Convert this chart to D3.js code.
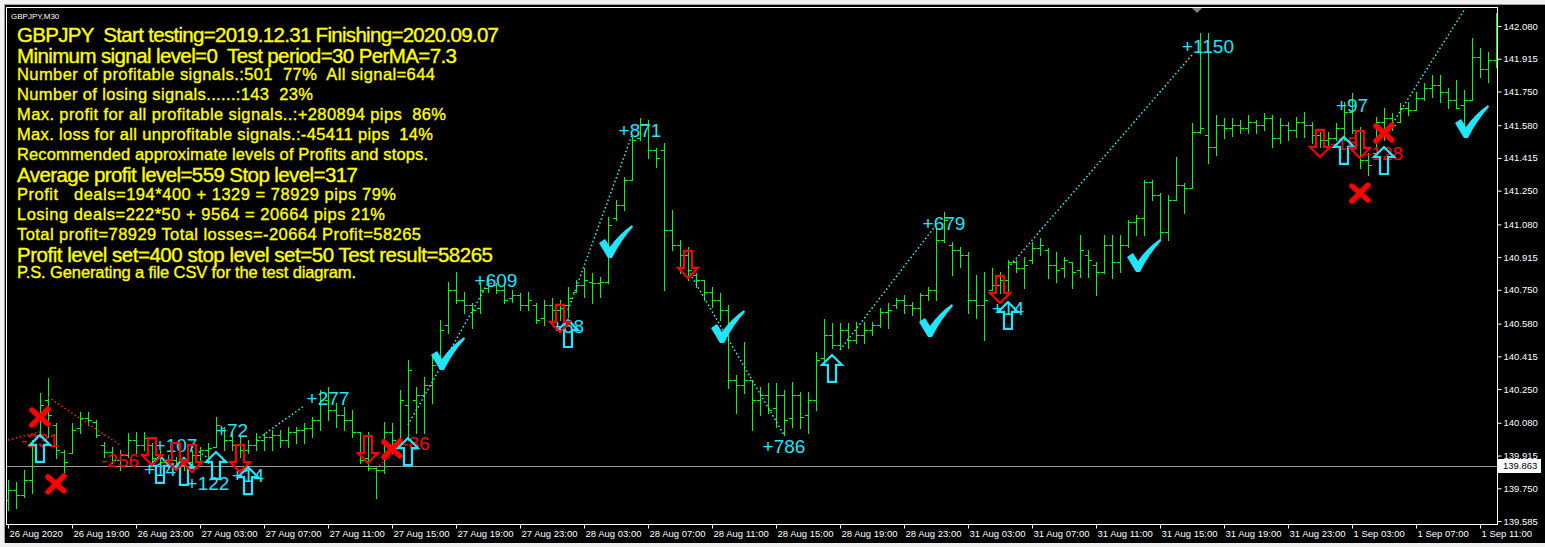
<!DOCTYPE html>
<html><head><meta charset="utf-8">
<script src="https://cdn.jsdelivr.net/npm/d3@7"></script>
<style>
html,body{margin:0;padding:0;background:#000;overflow:hidden}
svg{display:block}
text{white-space:pre}
</style></head><body><svg id="c" width="1545" height="547"></svg>
<script>
// ---------- DATA ----------
const symbolTitle = "GBPJPY,M30";
const opens = [139.691,139.741,139.716,139.792,140.019,140.195,140.069,139.933,139.928,140.054,140.104,140.084,139.968,139.933,139.893,139.918,139.993,139.968,139.968,139.903,139.883,139.893,139.867,139.883,139.918,139.943,139.958,140.054,139.993,139.968,139.943,139.968,139.993,140.009,140.019,139.993,140.034,140.044,140.054,140.094,140.195,140.145,140.119,140.094,140.034,139.903,139.852,139.842,140.034,139.993,140.170,140.195,140.220,140.271,140.397,140.573,140.749,140.699,140.674,140.659,140.759,140.775,140.749,140.709,140.724,140.674,140.674,140.608,140.674,140.649,140.674,140.739,140.775,140.790,140.785,140.790,141.112,141.178,141.304,141.515,141.581,141.455,141.455,141.052,140.976,140.926,140.825,140.800,140.739,140.699,140.649,140.296,140.271,140.296,140.195,140.220,140.155,140.220,140.104,140.220,140.119,140.195,140.407,140.523,140.472,140.548,140.497,140.523,140.548,140.573,140.639,140.674,140.699,140.674,140.659,140.724,140.749,141.001,140.976,140.951,140.926,140.699,140.674,140.749,140.775,140.800,140.891,140.860,140.901,140.961,140.951,140.875,140.860,140.891,140.850,140.926,140.875,140.840,140.976,140.891,140.976,141.092,141.112,141.294,141.228,141.042,141.203,141.279,141.263,141.546,141.531,141.470,141.581,141.566,141.581,141.566,141.596,141.581,141.616,141.515,141.581,141.556,141.596,141.581,141.531,141.505,141.515,141.566,141.647,141.556,141.405,141.440,141.596,141.616,141.596,141.667,141.657,141.717,141.767,141.783,141.747,141.707,141.682,141.707,141.924,141.863,141.909];
const highs = [139.792,139.782,139.842,139.993,140.230,140.306,140.079,139.943,140.079,140.135,140.135,140.094,139.983,139.958,139.943,140.029,140.034,140.034,139.978,139.943,139.918,139.908,139.908,139.943,139.958,139.978,140.109,140.059,140.044,140.009,139.993,140.029,140.029,140.044,140.044,140.059,140.059,140.079,140.109,140.245,140.261,140.180,140.160,140.145,140.034,140.034,139.857,140.084,140.079,140.245,140.397,140.261,140.311,140.412,140.598,140.790,140.840,140.739,140.684,140.785,140.810,140.785,140.785,140.749,140.734,140.739,140.684,140.699,140.709,140.699,140.765,140.800,140.860,140.835,140.815,141.117,141.203,141.319,141.521,141.616,141.606,141.465,141.490,141.153,141.001,140.966,140.835,140.800,140.765,140.734,140.674,140.321,140.487,140.296,140.261,140.281,140.281,140.245,140.286,140.235,140.235,140.437,140.603,140.583,140.583,140.583,140.588,140.588,140.588,140.659,140.684,140.709,140.724,140.689,140.734,140.765,141.067,141.143,140.991,140.966,140.941,140.825,140.840,140.860,140.840,140.901,140.901,140.916,140.991,141.011,140.961,140.941,140.916,140.891,141.027,140.951,140.891,141.027,141.027,141.027,141.102,141.127,141.304,141.304,141.238,141.228,141.420,141.289,141.591,142.045,142.045,141.631,141.616,141.616,141.606,141.631,141.606,141.641,141.631,141.616,141.596,141.621,141.647,141.596,141.546,141.546,141.591,141.697,141.742,141.571,141.440,141.621,141.667,141.641,141.692,141.697,141.747,141.793,141.833,141.833,141.767,141.808,141.757,142.019,141.969,141.949,142.145];
const lows = [139.641,139.651,139.706,139.726,140.009,140.009,139.903,139.832,139.928,140.029,140.069,140.009,139.908,139.877,139.842,139.908,139.928,139.943,139.877,139.857,139.852,139.842,139.842,139.857,139.877,139.877,139.958,139.943,139.943,139.908,139.928,139.943,139.943,139.943,139.958,139.958,139.978,139.978,140.009,140.044,140.094,140.059,140.044,140.009,139.877,139.842,139.701,139.827,139.928,139.978,139.993,140.029,140.029,140.180,140.381,140.533,140.684,140.633,140.558,140.633,140.739,140.734,140.684,140.689,140.649,140.649,140.583,140.573,140.598,140.598,140.613,140.739,140.714,140.684,140.714,140.785,141.102,141.153,141.304,141.505,141.415,141.369,140.749,140.951,140.835,140.800,140.765,140.699,140.664,140.598,140.255,140.129,140.230,140.044,140.119,140.129,140.059,140.019,140.059,140.054,140.029,140.145,140.397,140.457,140.457,140.457,140.482,140.482,140.523,140.563,140.558,140.659,140.633,140.623,140.588,140.699,140.699,140.991,140.825,140.865,140.633,140.608,140.497,140.749,140.734,140.724,140.840,140.759,140.885,140.926,140.810,140.790,140.815,140.759,140.815,140.815,140.724,140.835,140.810,140.840,140.966,141.027,141.027,141.203,141.001,141.001,141.203,141.137,141.263,141.541,141.389,141.430,141.515,141.526,141.541,141.541,141.541,141.556,141.470,141.490,141.505,141.521,141.521,141.490,141.470,141.470,141.505,141.505,141.541,141.364,141.329,141.440,141.505,141.556,141.596,141.631,141.657,141.707,141.722,141.697,141.667,141.667,141.541,141.707,141.823,141.798,141.873];
const closes = [139.741,139.716,139.792,139.968,140.170,140.119,139.943,139.883,140.044,140.104,140.094,140.019,139.933,139.893,139.918,139.993,139.968,140.003,139.903,139.883,139.893,139.867,139.883,139.918,139.943,139.953,140.069,139.993,139.968,139.943,139.968,139.993,140.009,140.019,139.993,140.034,140.044,140.054,140.094,140.195,140.145,140.119,140.094,140.034,139.893,139.852,139.842,140.034,139.993,140.195,140.346,140.220,140.271,140.371,140.548,140.749,140.699,140.674,140.649,140.749,140.785,140.749,140.699,140.724,140.674,140.699,140.598,140.674,140.649,140.659,140.709,140.775,140.800,140.785,140.790,141.077,141.178,141.304,141.505,141.581,141.455,141.415,141.052,140.976,140.926,140.850,140.800,140.739,140.699,140.649,140.296,140.271,140.296,140.195,140.220,140.145,140.220,140.094,140.220,140.109,140.195,140.397,140.523,140.472,140.548,140.497,140.523,140.548,140.573,140.639,140.649,140.699,140.674,140.659,140.724,140.749,141.001,141.102,140.951,140.926,140.699,140.674,140.699,140.775,140.800,140.891,140.860,140.875,140.961,140.976,140.875,140.850,140.901,140.840,140.951,140.901,140.840,140.976,140.891,140.976,141.092,141.112,141.294,141.228,141.042,141.203,141.279,141.263,141.546,141.566,141.470,141.581,141.566,141.581,141.566,141.596,141.581,141.616,141.515,141.581,141.556,141.596,141.581,141.531,141.505,141.515,141.566,141.647,141.556,141.405,141.379,141.596,141.616,141.581,141.667,141.657,141.717,141.767,141.783,141.747,141.707,141.667,141.707,141.924,141.863,141.909,141.909];

const timeLabels = ["26 Aug 2020","26 Aug 19:00","26 Aug 23:00","27 Aug 03:00","27 Aug 07:00","27 Aug 11:00","27 Aug 15:00","27 Aug 19:00","27 Aug 23:00","28 Aug 03:00","28 Aug 07:00","28 Aug 11:00","28 Aug 15:00","28 Aug 19:00","28 Aug 23:00","31 Aug 03:00","31 Aug 07:00","31 Aug 11:00","31 Aug 15:00","31 Aug 19:00","31 Aug 23:00","1 Sep 03:00","1 Sep 07:00","1 Sep 11:00"];
const timeTickBars = [0,8,16,24,32,40,48,56,64,72,80,88,96,104,112,120,128,136,144,152,160,168,176,184];
const priceTicks = [142.080,141.915,141.750,141.580,141.415,141.250,141.080,140.915,140.750,140.580,140.415,140.250,140.080,139.915,139.750,139.585];
const currentPrice = 139.863;

const upArrowBars   = [4,19,22,26,30,50,70,103,125,167,172];
const upArrowPrices = [140.019,139.913,139.903,139.933,139.857,140.003,140.598,140.422,140.689,141.521,141.470];
const downArrowBars   = [18,21,23,29,45,69,85,124,164,169];
const downArrowPrices = [139.867,139.842,139.832,139.832,139.877,140.538,140.810,140.684,141.420,141.415];
const crossBars   = [4,6,48,169,172];
const crossPrices = [140.109,139.772,139.948,141.238,141.541];
const checkBars   = [55,76,90,116,142,183];
const checkPrices = [140.427,140.991,140.563,140.593,140.921,141.596];

const profitLabels      = ["+277","+72","+122","+107","+14","+14","+609","+68","+871","+786","+679","+14","+1150","+97"];
const profitLabelBars   = [40,28,25,21,19,30,61,70,79,97,117,125,150,168];
const profitLabelPrices = [140.170,140.009,139.741,139.933,139.812,139.782,140.765,140.533,141.521,139.928,141.052,140.623,141.944,141.647];
const lossLabels      = ["-231","-256","-86","-18","-128"];
const lossLabelBars   = [4,14,51,167,172];
const lossLabelPrices = [139.958,139.857,139.943,141.455,141.405];

// dotted trade lines: [bar1, price1, bar2, price2]
const lossTradeLines = [[0,139.993,4,140.034],[5,140.210,14,139.968],[46,139.852,48,139.918]];
const profitTradeLines = [[23,139.958,25,139.903],[31,139.993,37,140.165],[50,140.069,60,140.785],[70,140.649,78,141.531],[85,140.850,97,140.019],[104,140.447,116,141.077],[125,140.860,148,141.934],[172,141.521,182,142.159]];

const reportLines = [
 "GBPJPY  Start testing=2019.12.31 Finishing=2020.09.07",
 "Minimum signal level=0  Test period=30 PerMA=7.3",
 "Number of profitable signals.:501  77%  All signal=644",
 "Number of losing signals......:143  23%",
 "Max. profit for all profitable signals..:+280894 pips  86%",
 "Max. loss for all unprofitable signals.:-45411 pips  14%",
 "Recommended approximate levels of Profits and stops.",
 "Average profit level=559 Stop level=317",
 "Profit   deals=194*400 + 1329 = 78929 pips 79%",
 "Losing deals=222*50 + 9564 = 20664 pips 21%",
 "Total profit=78929 Total losses=-20664 Profit=58265",
 "Profit level set=400 stop level set=50 Test result=58265",
 "P.S. Generating a file CSV for the test diagram."
];
const reportBig = [true,true,false,false,false,false,false,true,false,false,false,true,false];
const reportBaselines = [42,63,80,100,120,140,160,182,200,220,240,262,278];
const reportWidths = [482,440,418,296,429,416,411,341,379,368,404,476,339];

// ---------- DRAW ----------
const W = 1545, H = 547;
const FL = 6, FT = 7, FR = 1497, FB = 524;
const svg = d3.select("#c");
svg.append("rect").attr("width", W).attr("height", H).attr("fill", "#000");
// window chrome
svg.append("rect").attr("x",0).attr("y",0).attr("width",W).attr("height",4).attr("fill","#f0f0f0");
svg.append("line").attr("x1",0).attr("x2",W).attr("y1",4.5).attr("y2",4.5).attr("stroke","#a0a0a0");
svg.append("rect").attr("x",0).attr("y",0).attr("width",4).attr("height",H).attr("fill","#f0f0f0");
svg.append("line").attr("x1",4.5).attr("x2",4.5).attr("y1",4).attr("y2",H).attr("stroke","#a0a0a0");
svg.append("rect").attr("x",0).attr("y",543).attr("width",W).attr("height",4).attr("fill","#f0f0f0");

const x = d3.scaleLinear().domain([0, 186]).range([8, 1496]);
const y = d3.scaleLinear().domain([139.585, 142.080]).range([521, 26]);

const defs = svg.append("defs");
defs.append("clipPath").attr("id","clip").append("rect")
  .attr("x",FL+1).attr("y",FT+1).attr("width",FR-FL-1).attr("height",FB-FT-1);

const plot = svg.append("g").attr("clip-path","url(#clip)");

// current price line
plot.append("line").attr("x1",FL).attr("x2",FR)
  .attr("y1",Math.round(y(currentPrice))+0.5).attr("y2",Math.round(y(currentPrice))+0.5)
  .attr("stroke","#9a9a9a").attr("stroke-width",1);

// OHLC bars
const r = v => Math.round(v) + 0.5;
plot.append("g").selectAll("path").data(d3.range(opens.length)).join("path")
  .attr("d", i => {
    const cx = Math.round(x(i)) + 0.5;
    const yh = Math.round(y(highs[i])), yl = Math.round(y(lows[i]));
    const yo = r(y(opens[i])), yc = r(y(closes[i]));
    return `M${cx},${yh}V${yl+1}M${cx-3.5},${yo}H${cx}M${cx},${yc}H${cx+3.5}`;
  })
  .attr("stroke","#00ff00").attr("stroke-width",1).attr("fill","none")
  .attr("shape-rendering","crispEdges");

// dotted trade lines
plot.append("g").selectAll("line").data(lossTradeLines).join("line")
  .attr("x1",d=>x(d[0])).attr("y1",d=>y(d[1])).attr("x2",d=>x(d[2])).attr("y2",d=>y(d[3]))
  .attr("stroke","#ff2020").attr("stroke-width",1.5).attr("stroke-dasharray","1.5 2.5");
plot.append("g").selectAll("line").data(profitTradeLines).join("line")
  .attr("x1",d=>x(d[0])).attr("y1",d=>y(d[1])).attr("x2",d=>x(d[2])).attr("y2",d=>y(d[3]))
  .attr("stroke","#30f0ff").attr("stroke-width",1.5).attr("stroke-dasharray","1.5 2.5");

const CYAN = "#1ee6ff", RED = "#ff0000";
const LABEL_FONT = "'Liberation Sans', Arial, sans-serif";

// labels
plot.append("g").selectAll("text").data(profitLabels).join("text")
  .attr("x",(d,i)=>x(profitLabelBars[i])).attr("y",(d,i)=>y(profitLabelPrices[i]))
  .attr("text-anchor","middle").attr("fill",CYAN)
  .attr("font-family",LABEL_FONT).attr("font-size",19).text(d=>d);
plot.append("g").selectAll("text").data(lossLabels).join("text")
  .attr("x",(d,i)=>x(lossLabelBars[i])).attr("y",(d,i)=>y(lossLabelPrices[i]))
  .attr("text-anchor","middle").attr("fill",RED)
  .attr("font-family",LABEL_FONT).attr("font-size",19).text(d=>d);

// check marks
const checkPath = "M-17,1 L-11,-3 L-6,5 Q3,-8 16,-17 L17,-15 Q5,-2 -4,16 L-8,16 Z";
plot.append("g").selectAll("path").data(checkBars).join("path")
  .attr("transform",(d,i)=>`translate(${x(d)},${y(checkPrices[i])})`)
  .attr("d",checkPath).attr("fill",CYAN);

// crosses
plot.append("g").selectAll("path").data(crossBars).join("path")
  .attr("transform",(d,i)=>`translate(${x(d)},${y(crossPrices[i])})`)
  .attr("d","M-8,-7 L8,7 M8,-8 L-8,8")
  .attr("stroke",RED).attr("stroke-width",5.5).attr("stroke-linecap","round").attr("fill","none");

// arrows
const upPath = "M0,0 L10,10 L4,10 L4,27 L-4,27 L-4,10 L-10,10 Z";
const downPath = "M0,0 L10,-10 L4,-10 L4,-27 L-4,-27 L-4,-10 L-10,-10 Z";
plot.append("g").selectAll("path").data(upArrowBars).join("path")
  .attr("transform",(d,i)=>`translate(${x(d)},${y(upArrowPrices[i])})`)
  .attr("d",upPath).attr("fill","none").attr("stroke",CYAN).attr("stroke-width",2.2)
  .attr("stroke-linejoin","miter");
plot.append("g").selectAll("path").data(downArrowBars).join("path")
  .attr("transform",(d,i)=>`translate(${x(d)},${y(downArrowPrices[i])})`)
  .attr("d",downPath).attr("fill","none").attr("stroke",RED).attr("stroke-width",2.2)
  .attr("stroke-linejoin","miter");

// report text
const rep = svg.append("g");
rep.selectAll("text").data(reportLines).join("text")
  .attr("x",17).attr("y",(d,i)=>reportBaselines[i])
  .attr("fill","#ffff00").attr("stroke","#ffff00").attr("stroke-width",0.35)
  .attr("font-family",LABEL_FONT)
  .attr("font-size",(d,i)=>reportBig[i]?20.5:16.5)
  .attr("textLength",(d,i)=>reportWidths[i]).attr("lengthAdjust","spacing")
  .text(d=>d);

// symbol title
svg.append("text").attr("x",11).attr("y",19).attr("fill","#fff")
  .attr("font-family",LABEL_FONT).attr("font-size",8).text(symbolTitle);

// frame
svg.append("rect").attr("x",FL+0.5).attr("y",FT+0.5).attr("width",FR-FL).attr("height",FB-FT)
  .attr("fill","none").attr("stroke","#fff").attr("stroke-width",1);

// chart-shift marker
svg.append("path").attr("d","M1192,8 L1202,8 L1197,13 Z").attr("fill","#808080");

// right price axis
const yAxis = d3.axisRight(y).tickValues(priceTicks).tickFormat(d3.format(".3f")).tickSize(4).tickPadding(2);
const ya = svg.append("g").attr("transform",`translate(${FR+0.5},0)`).call(yAxis);
ya.select(".domain").remove();
ya.selectAll(".tick line").attr("stroke","#fff");
ya.selectAll(".tick text").attr("fill","#fff").attr("font-family",LABEL_FONT).attr("font-size",9.5);

// current price box
const cpY = y(currentPrice);
svg.append("rect").attr("x",FR+1).attr("y",Math.round(cpY)-7).attr("width",43).attr("height",14).attr("fill","#fff");
svg.append("text").attr("x",FR+6).attr("y",cpY).attr("dy","0.35em").attr("fill","#000")
  .attr("font-family",LABEL_FONT).attr("font-size",9.5).text(d3.format(".3f")(currentPrice));

// bottom time axis
const xAxis = d3.axisBottom(x).tickValues(timeTickBars).tickFormat((d,i)=>timeLabels[i]).tickSize(4).tickPadding(2);
const xa = svg.append("g").attr("transform",`translate(0,${FB+0.5})`).call(xAxis);
xa.select(".domain").remove();
xa.selectAll(".tick line").attr("stroke","#fff");
xa.selectAll(".tick text").attr("fill","#fff").attr("font-family",LABEL_FONT).attr("font-size",9.5)
  .attr("text-anchor","start").attr("x",1);
</script></body></html>
